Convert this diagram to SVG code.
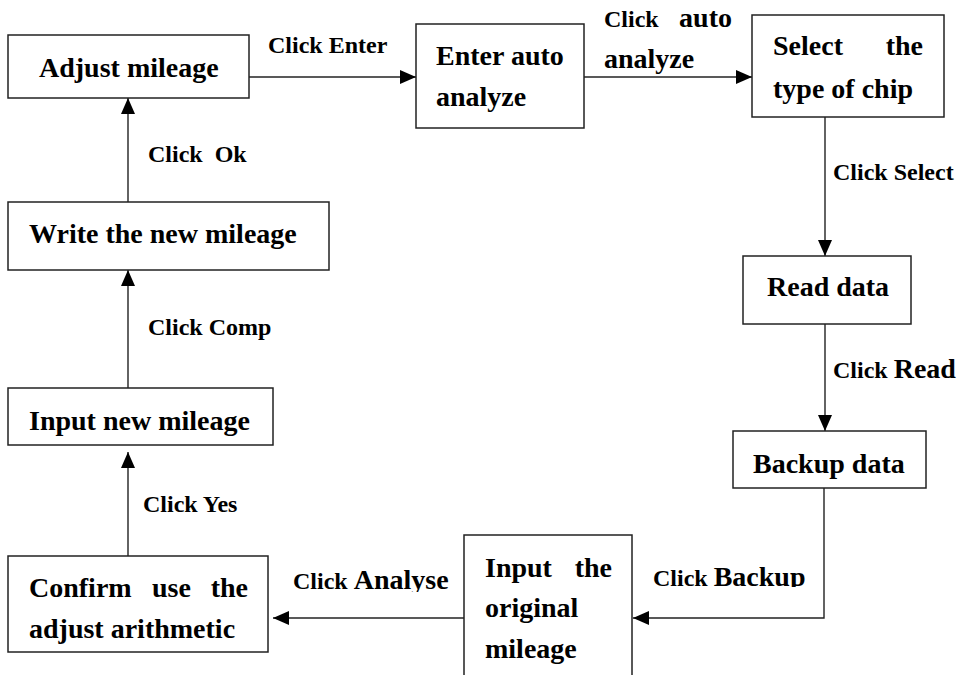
<svg xmlns="http://www.w3.org/2000/svg" width="957" height="675" viewBox="0 0 957 675">
<style>
.box{fill:#fff;stroke:#222;stroke-width:1.5}
.t{font-family:"Liberation Serif","Times New Roman",serif;font-weight:bold;fill:#000;font-size:28px}
.l{font-family:"Liberation Serif","Times New Roman",serif;font-weight:bold;fill:#000;font-size:24px}
.big{font-size:28px}
.c{fill:none;stroke:#222;stroke-width:1.4}
</style>
<defs>
<marker id="arr" markerUnits="userSpaceOnUse" markerWidth="16" markerHeight="14" refX="16" refY="7" orient="auto">
<path d="M0,0 L16,7 L0,14 z" fill="#000"/>
</marker>
<clipPath id="clipBackup"><rect x="600" y="540" width="220" height="47"/></clipPath>
<clipPath id="clipAnalyse"><rect x="280" y="550" width="180" height="42"/></clipPath>
</defs>
<rect width="957" height="675" fill="#fff"/>

<g id="connectors">
<path class="c" d="M249,77 H416" marker-end="url(#arr)"/>
<path class="c" d="M584,77 H752" marker-end="url(#arr)"/>
<path class="c" d="M825,117 V256" marker-end="url(#arr)"/>
<path class="c" d="M825,324 V431" marker-end="url(#arr)"/>
<path class="c" d="M824,488 V618 H633" marker-end="url(#arr)"/>
<path class="c" d="M464,618 H273" marker-end="url(#arr)"/>
<path class="c" d="M128,556 V452" marker-end="url(#arr)"/>
<path class="c" d="M128,388 V270" marker-end="url(#arr)"/>
<path class="c" d="M128,202 V98" marker-end="url(#arr)"/>
</g>

<g id="labels">
<text class="l" x="268" y="53">Click Enter</text>
<text class="l" x="604" y="27">Click</text>
<text class="l big" x="732" y="27" text-anchor="end">auto</text>
<text class="l big" x="604" y="68">analyze</text>
<text class="l" x="833" y="180">Click Select</text>
<text class="l" x="833" y="378">Click <tspan class="big">Read</tspan></text>
<g clip-path="url(#clipBackup)"><text class="l" x="653" y="586">Click <tspan class="big">Backup</tspan></text></g>
<g clip-path="url(#clipAnalyse)"><text class="l" x="293" y="589">Click <tspan class="big">Analyse</tspan></text></g>
<text class="l" x="143" y="512">Click Yes</text>
<text class="l" x="148" y="335">Click Comp</text>
<text class="l" x="148" y="162" style="white-space:pre">Click  Ok</text>
</g>

<g id="adjust-mileage">
<rect class="box" x="8" y="35" width="241" height="63"/>
<text class="t" x="39" y="77">Adjust mileage</text>
</g>

<g id="enter-auto-analyze">
<rect class="box" x="416" y="24" width="168" height="104"/>
<text class="t" x="436" y="65">Enter auto</text>
<text class="t" x="436" y="106">analyze</text>
</g>

<g id="select-chip">
<rect class="box" x="752" y="15" width="192" height="102"/>
<text class="t" x="773" y="55">Select</text>
<text class="t" x="923" y="55" text-anchor="end">the</text>
<text class="t" x="773" y="98">type of chip</text>
</g>

<g id="read-data">
<rect class="box" x="743" y="256" width="168" height="68"/>
<text class="t" x="767" y="296">Read data</text>
</g>

<g id="backup-data">
<rect class="box" x="733" y="431" width="193" height="57"/>
<text class="t" x="753" y="473">Backup data</text>
</g>

<g id="input-original">
<rect class="box" x="464" y="535" width="168" height="160"/>
<text class="t" x="485" y="577">Input</text>
<text class="t" x="612" y="577" text-anchor="end">the</text>
<text class="t" x="485" y="617">original</text>
<text class="t" x="485" y="658">mileage</text>
</g>

<g id="confirm">
<rect class="box" x="8" y="556" width="260" height="96"/>
<text class="t" x="29" y="597">Confirm</text>
<text class="t" x="152" y="597">use</text>
<text class="t" x="248" y="597" text-anchor="end">the</text>
<text class="t" x="29" y="638">adjust arithmetic</text>
</g>

<g id="input-new">
<rect class="box" x="8" y="388" width="265" height="57"/>
<text class="t" x="29" y="430">Input new mileage</text>
</g>

<g id="write-new">
<rect class="box" x="8" y="202" width="321" height="68"/>
<text class="t" x="29" y="243">Write the new mileage</text>
</g>
</svg>
